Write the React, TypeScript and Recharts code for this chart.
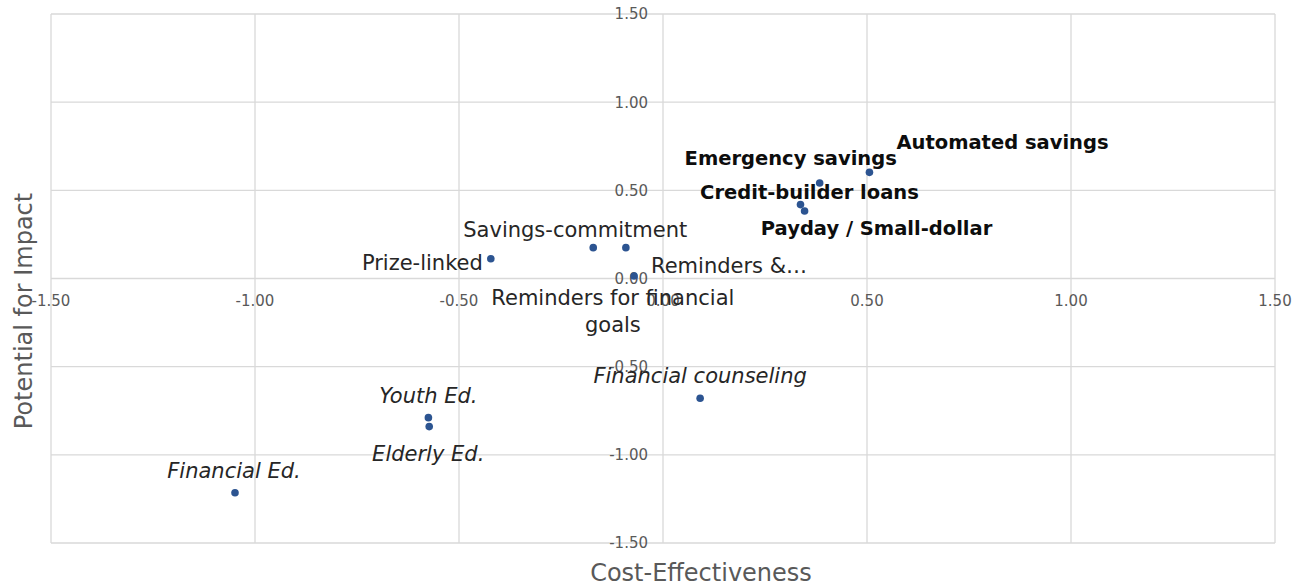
import { CartesianGrid, ReferenceDot, Scatter, ScatterChart, XAxis, YAxis } from "recharts"

// programs plotted by cost-effectiveness (x) and potential for impact (y)
const programs = [
  "Automated savings",
  "Emergency savings",
  "Credit-builder loans",
  "Payday / Small-dollar",
  "Savings-commitment",
  "Reminders for financial goals",
  "Prize-linked",
  "Reminders &...",
  "Financial counseling",
  "Youth Ed.",
  "Elderly Ed.",
  "Financial Ed.",
]
const costEffectiveness = [0.506, 0.384, 0.337, 0.347, -0.171, -0.091, -0.422, -0.071, 0.091, -0.575, -0.573, -1.049]
const impact = [0.602, 0.542, 0.419, 0.383, 0.175, 0.175, 0.112, 0.014, -0.679, -0.789, -0.84, -1.215]
const ticks = [-1.5, -1, -0.5, 0, 0.5, 1, 1.5]

const data = programs.map((name, i) => ({ name, x: costEffectiveness[i], y: impact[i] }))

// label placement / styling, relative to each point (px)
type LabelCfg = { lines: string[]; anchor: "start" | "middle" | "end"; dx: number; dy: number; weight?: "bold"; italic?: boolean }
const labelLayout: Record<string, LabelCfg> = {
  "Automated savings": { lines: ["Automated savings"], anchor: "start", dx: 27, dy: -23, weight: "bold" },
  "Emergency savings": { lines: ["Emergency savings"], anchor: "middle", dx: -29, dy: -18, weight: "bold" },
  "Credit-builder loans": { lines: ["Credit-builder loans"], anchor: "middle", dx: 9, dy: -6, weight: "bold" },
  "Payday / Small-dollar": { lines: ["Payday / Small-dollar"], anchor: "middle", dx: 72, dy: 24, weight: "bold" },
  "Savings-commitment": { lines: ["Savings-commitment"], anchor: "middle", dx: -18, dy: -11 },
  "Reminders for financial goals": { lines: ["Reminders for financial", "goals"], anchor: "middle", dx: -13, dy: 57 },
  "Prize-linked": { lines: ["Prize-linked"], anchor: "end", dx: -8, dy: 11 },
  "Reminders &...": { lines: ["Reminders &…"], anchor: "start", dx: 17, dy: -3 },
  "Financial counseling": { lines: ["Financial counseling"], anchor: "middle", dx: 0, dy: -15, italic: true },
  "Youth Ed.": { lines: ["Youth Ed."], anchor: "middle", dx: 0, dy: -15, italic: true },
  "Elderly Ed.": { lines: ["Elderly Ed."], anchor: "middle", dx: -1, dy: 34, italic: true },
  "Financial Ed.": { lines: ["Financial Ed."], anchor: "middle", dx: -1, dy: -15, italic: true },
}

const FONT = "'DejaVu Sans', sans-serif"
const W = 1296
const H = 587
const margin = { top: 14, right: 21, bottom: 44, left: 51 }

// tick labels sit on the axes that cross at 0, so they are drawn as labels of zero-size reference dots
const xTickLabel = (t: number) => (p: any) => {
  const vb = p.viewBox || {}
  const cx = vb.x + (vb.width || 0) / 2
  const cy = vb.y + (vb.height || 0) / 2
  return (
    <text x={cx} y={cy + 27.5} textAnchor="middle" fill="#595959" fontSize={15} fontFamily={FONT}>
      {t.toFixed(2)}
    </text>
  )
}

const yTickLabel = (t: number) => (p: any) => {
  const vb = p.viewBox || {}
  const cx = vb.x + (vb.width || 0) / 2
  const cy = vb.y + (vb.height || 0) / 2
  return (
    <text x={cx - 15} y={cy} dy="0.36em" textAnchor="end" fill="#595959" fontSize={15} fontFamily={FONT}>
      {t.toFixed(2)}
    </text>
  )
}

const PointWithLabel = (props: any) => {
  const { cx, cy, payload } = props
  const cfg = labelLayout[payload.name]
  return (
    <g>
      <circle cx={cx} cy={cy} r={3.8} fill="#2c5491" />
      {cfg.lines.map((line, i) => (
        <text
          key={i}
          x={cx + cfg.dx}
          y={cy + cfg.dy + i * 27}
          textAnchor={cfg.anchor}
          fontFamily={FONT}
          fontSize={cfg.weight ? 19.5 : 21}
          fontWeight={cfg.weight ?? "normal"}
          fontStyle={cfg.italic ? "italic" : "normal"}
          fill={cfg.weight ? "#0d0d0d" : "#262626"}
        >
          {line}
        </text>
      ))}
    </g>
  )
}

export default function App() {
  return (
    <div style={{ position: "absolute", left: 0, top: 0, width: W, height: H, background: "#fff" }}>
      <ScatterChart width={W} height={H} margin={margin}>
        <CartesianGrid stroke="#d9d9d9" strokeWidth={1.3} />
        <XAxis type="number" dataKey="x" domain={[-1.5, 1.5]} ticks={ticks} hide />
        <YAxis type="number" dataKey="y" domain={[-1.5, 1.5]} ticks={ticks} hide />
        {ticks.map((t) => (
          <ReferenceDot key={`x${t}`} x={t} y={0} r={0} fill="none" stroke="none" label={xTickLabel(t)} />
        ))}
        {ticks.map((t) => (
          <ReferenceDot key={`y${t}`} x={0} y={t} r={0} fill="none" stroke="none" label={yTickLabel(t)} />
        ))}
        <Scatter data={data} shape={<PointWithLabel />} isAnimationActive={false} />
        <text x={701} y={581} textAnchor="middle" fill="#595959" fontSize={24} fontFamily={FONT}>
          Cost-Effectiveness
        </text>
        <text
          x={32}
          y={311}
          textAnchor="middle"
          fill="#595959"
          fontSize={24}
          fontFamily={FONT}
          transform="rotate(-90 32 311)"
        >
          Potential for Impact
        </text>
      </ScatterChart>
    </div>
  )
}
